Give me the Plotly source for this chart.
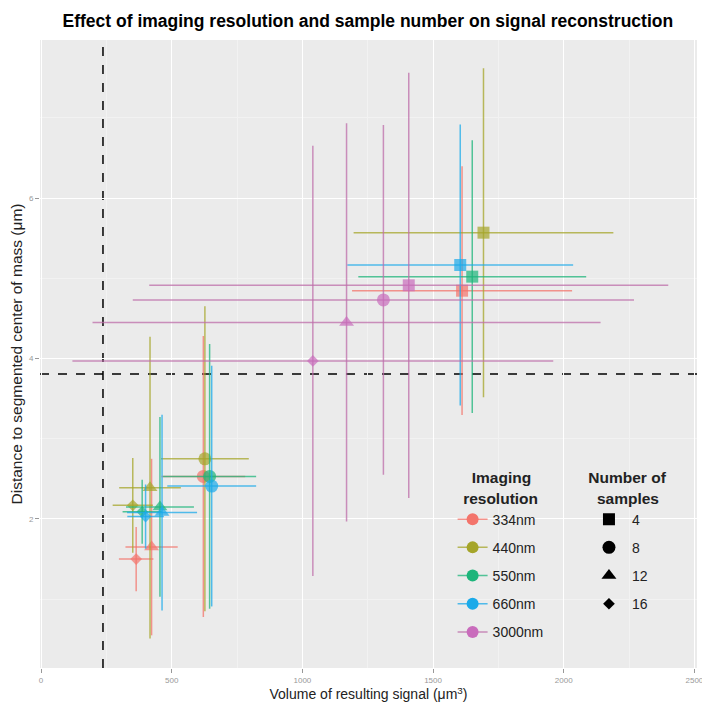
import plotly.graph_objects as go

# ---- data ----
resolutions = ["334nm", "440nm", "550nm", "660nm", "3000nm"]
sample_counts = [4, 8, 12, 16]
colors = ["#F3746B", "#A5A52A", "#1DB57B", "#1BAAE9", "#C96CBC"]
line_colors = ["rgba(243,116,107,0.75)", "rgba(165,165,42,0.75)", "rgba(29,181,123,0.75)",
               "rgba(27,170,233,0.75)", "rgba(190,110,170,0.75)"]

# per resolution, values for 4, 8, 12, 16 samples
vol_334 = [1611, 621, 423, 364]
dist_334 = [4.845, 2.53, 1.65, 1.50]
vol_sd_334 = [421, 160, 100, 66]
dist_sd_334 = [1.55, 1.75, 1.10, 0.40]

vol_440 = [1693, 627, 417, 351]
dist_440 = [5.568, 2.75, 2.39, 2.17]
vol_sd_440 = [497, 168, 118, 77]
dist_sd_440 = [2.05, 1.90, 1.88, 0.59]

vol_550 = [1650, 645, 455, 387]
dist_550 = [5.02, 2.53, 2.15, 2.09]
vol_sd_550 = [436, 178, 130, 75]
dist_sd_550 = [1.70, 1.65, 1.12, 0.40]

vol_660 = [1604, 653, 463, 400]
dist_660 = [5.165, 2.41, 2.08, 2.03]
vol_sd_660 = [432, 170, 134, 70]
dist_sd_660 = [1.75, 1.50, 1.22, 0.40]

vol_3000 = [1407, 1310, 1169, 1040]
dist_3000 = [4.912, 4.73, 4.45, 3.97]
vol_sd_3000 = [993, 959, 972, 920]
dist_sd_3000 = [2.65, 2.18, 2.48, 2.68]

threshold_volume = 237
threshold_distance = 3.807

x_ticks = [0, 500, 1000, 1500, 2000, 2500]
y_ticks = [2, 4, 6]

vols = [vol_334, vol_440, vol_550, vol_660, vol_3000]
dists = [dist_334, dist_440, dist_550, dist_660, dist_3000]
vol_sds = [vol_sd_334, vol_sd_440, vol_sd_550, vol_sd_660, vol_sd_3000]
dist_sds = [dist_sd_334, dist_sd_440, dist_sd_550, dist_sd_660, dist_sd_3000]

symbols = ["square", "circle", "triangle-up", "diamond"]
sizes = [12, 13, 13, 9]

FONT = "Liberation Sans, Arial, sans-serif"
NB = "&nbsp;"

fig = go.Figure()

# threshold lines
fig.add_vline(x=threshold_volume, line=dict(color="black", width=1.5, dash="dash"), layer="below")
fig.add_hline(y=threshold_distance, line=dict(color="black", width=1.5, dash="dash"), layer="below")

for i, res in enumerate(resolutions):
    fig.add_trace(go.Scatter(
        x=vols[i], y=dists[i], mode="markers",
        marker=dict(color=colors[i], symbol=symbols, size=sizes, line=dict(width=0)),
        error_x=dict(type="data", array=vol_sds[i], color=line_colors[i], thickness=1.5, width=0),
        error_y=dict(type="data", array=dist_sds[i], color=line_colors[i], thickness=1.5, width=0),
        showlegend=False, hoverinfo="x+y",
    ))

# legend: resolution
for i, res in enumerate(resolutions):
    fig.add_trace(go.Scatter(
        x=[None], y=[None], mode="lines+markers", name=res,
        line=dict(color=line_colors[i], width=1.5),
        marker=dict(color=colors[i], symbol="circle", size=12),
        legend="legend", legendgroup="r" + res,
    ))
# legend: samples
for j, n in enumerate(sample_counts):
    fig.add_trace(go.Scatter(
        x=[None], y=[None], mode="markers", name=str(n),
        marker=dict(color="black", symbol=symbols[j], size=[12, 13, 13, 9][j]),
        legend="legend2", legendgroup="s" + str(n),
    ))

fig.update_layout(
    width=702, height=707,
    margin=dict(l=40, r=5, t=40, b=39, autoexpand=False),
    paper_bgcolor="white",
    plot_bgcolor="#EBEBEB",
    font=dict(family=FONT, color="#222"),
    title=dict(text="<b>Effect of imaging resolution and sample number on signal reconstruction</b>",
               x=0.524, xanchor="center", y=0.971, yanchor="middle",
               font=dict(size=17.5, color="black")),
    xaxis=dict(range=[-4, 2510], tickvals=x_ticks, ticktext=[str(v) for v in x_ticks],
               showgrid=True, gridcolor="white", gridwidth=1.2,
               minor=dict(dtick=250, showgrid=True, gridcolor="#F2F2F2", gridwidth=0.6),
               zeroline=False, ticks="outside", ticklen=4, tickcolor="#999",
               tickfont=dict(size=8, color="#999"), ticklabeloverflow="allow",
               automargin=False,
               title=dict(text="Volume of resulting signal (μm<sup>3</sup>)",
                          font=dict(size=14, color="#222"), standoff=4)),
    yaxis=dict(range=[0.143, 7.969], tickvals=y_ticks, ticktext=[str(v) for v in y_ticks],
               showgrid=True, gridcolor="white", gridwidth=1.2,
               minor=dict(dtick=1, showgrid=True, gridcolor="#F2F2F2", gridwidth=0.6),
               zeroline=False, ticks="outside", ticklen=4, tickcolor="#999",
               tickfont=dict(size=8, color="#999"),
               automargin=False,
               title=dict(text="Distance to segmented center of mass (μm)",
                          font=dict(size=15.5, color="#222"), standoff=2)),
    legend=dict(
        x=0.628, y=0.326, xanchor="left", yanchor="top",
        bgcolor="rgba(0,0,0,0)",
        title=dict(text="<b>" + NB * 2 + "Imaging<br>resolution</b>", side="top center",
                   font=dict(size=15.5, color="#222")),
        font=dict(size=14, color="#222"),
        traceorder="grouped", tracegroupgap=7, itemwidth=30,
    ),
    legend2=dict(
        x=0.831, y=0.326, xanchor="left", yanchor="top",
        bgcolor="rgba(0,0,0,0)",
        title=dict(text="<b>Number of<br>" + NB * 2 + "samples</b>", side="top center",
                   font=dict(size=15.5, color="#222")),
        font=dict(size=14, color="#222"),
        traceorder="grouped", tracegroupgap=7, itemwidth=36,
    ),
)

fig.write_html("out.html")
